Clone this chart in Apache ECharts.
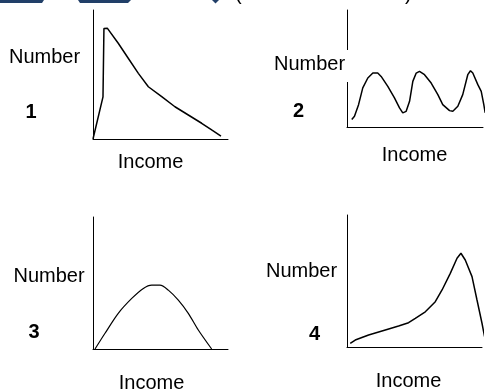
<!DOCTYPE html>
<html>
<head>
<meta charset="utf-8">
<script src="https://cdn.jsdelivr.net/npm/echarts@6/dist/echarts.min.js"></script>
<style>
  html, body { margin: 0; padding: 0; background: #fff; }
  #chart { width: 487px; height: 392px; }
</style>
</head>
<body>
<div id="chart"></div>
<script>
// Four schematic income distributions (Number vs Income), axes scaled 0..100.
const panelLabels = ['1', '2', '3', '4'];
const xAxisTitle = 'Income';
const yAxisTitle = 'Number';

// 1: sharp rise then long right tail
const income1 = [0, 7.4, 8.1, 10.7, 18.7, 26.1, 33.6, 41, 50.9, 60.7, 70.6, 80.5, 87.9, 94.8];
const number1 = [0, 32.6, 85.7, 85.8, 74.2, 62.6, 50.9, 40.5, 32.8, 25, 18.6, 12.2, 7, 2.3];

// 2: three repeated peaks
const income2 = [3.5, 5.5, 8.5, 11.6, 15.3, 19, 22.6, 25.1, 30, 34.9, 38.6, 41, 43.5, 46, 48.4, 50.9, 53.3, 57, 61.9, 66.8, 70.4, 75.4, 77.8, 81.5, 85.1, 88.8, 90.8, 92.5, 96.2, 98.7, 100.6, 101.6];
const number2 = [6.4, 9.2, 19.1, 33.4, 41.9, 46.1, 46.1, 43.2, 34.7, 24.9, 16.3, 12.1, 13.4, 22, 39, 46.1, 47.5, 44.7, 37.6, 27.7, 19.1, 14, 13.4, 17.7, 27.7, 44.7, 48.1, 46.1, 36.2, 30.5, 19.1, 12.1];

// 3: symmetric hump
const income3 = [1.5, 8.9, 18.7, 28.7, 37.3, 43.5, 49.6, 55.8, 63.2, 70.6, 78, 87.9];
const number3 = [0, 11.9, 27, 38.3, 45.9, 48.4, 48.4, 44.6, 37, 27, 14.4, 0];

// 4: slow rise, peak near the top end, steep fall
const income4 = [2.4, 6.1, 16, 28.4, 38.2, 45.6, 50.6, 58, 65.4, 70.4, 76.5, 81.5, 84.4, 87.6, 92.6, 96.3, 100, 101.9];
const number4 = [2.8, 5.3, 9.1, 12.9, 15.9, 18.4, 21.7, 26.7, 34.3, 43.2, 55.8, 67.2, 71, 65.9, 53.3, 35.6, 18, 7.8];

const curves = [[income1, number1], [income2, number2], [income3, number3], [income4, number4]];

const grids = [
  { left: 93, top: 10, width: 135, height: 129 },
  { left: 347, top: 10, width: 136, height: 117 },
  { left: 93, top: 217, width: 135, height: 132 },
  { left: 347, top: 215, width: 135, height: 132 }
];

const axisLine = { show: true, lineStyle: { color: '#000', width: 1 } };
const bareAxis = (type, i) => ({
  type: 'value', gridIndex: i, min: 0, max: 100,
  axisLine: axisLine, axisTick: { show: false }, axisLabel: { show: false },
  splitLine: { show: false }
});

const font = '"Liberation Sans", Arial, sans-serif';
const textEl = (text, x, y, bold) => ({
  type: 'text', x: x, y: y, z: 10,
  style: {
    text: text, fill: '#000', align: 'center', verticalAlign: 'middle',
    font: (bold ? 'bold ' : '') + '20px ' + font
  }
});

// label positions for each panel: [Number, digit, Income]
const labelPos = [
  [[44.5, 57], [31, 112], [150.5, 162.5]],
  [[309.5, 64.5], [298.5, 111.5], [414.5, 155.5]],
  [[49, 276.5], [34, 332.5], [151.5, 383.5]],
  [[301.5, 271.5], [314.5, 334.5], [408.5, 381.5]]
];

const graphics = [];
// white band breaking the second panel's vertical axis behind its label
graphics.push({ type: 'rect', z: 9, shape: { x: 270, y: 50, width: 80, height: 32 }, style: { fill: '#fff' } });
labelPos.forEach((p, i) => {
  graphics.push(textEl(yAxisTitle, p[0][0], p[0][1], false));
  graphics.push(textEl(panelLabels[i], p[1][0], p[1][1], true));
  graphics.push(textEl(xAxisTitle, p[2][0], p[2][1], false));
});
// heading strip along the top edge
const navy = '#213f68';
graphics.push({ type: 'polygon', shape: { points: [[0, 0], [44, 0], [42, 3], [0, 3]] }, style: { fill: navy } });
graphics.push({ type: 'polygon', shape: { points: [[78, 0], [131, 0], [128, 3], [80, 3]] }, style: { fill: navy } });
graphics.push({ type: 'polygon', shape: { points: [[212, 0], [219, 0], [215.5, 3.5]] }, style: { fill: navy } });
graphics.push({ type: 'text', x: 235, y: -16, style: { text: '(', font: '20px ' + font, fill: '#000' } });
graphics.push({ type: 'text', x: 405, y: -16, style: { text: ')', font: '20px ' + font, fill: '#000' } });

const option = {
  animation: false,
  backgroundColor: '#fff',
  grid: grids,
  xAxis: grids.map((g, i) => bareAxis('x', i)),
  yAxis: grids.map((g, i) => bareAxis('y', i)),
  series: curves.map((c, i) => ({
    type: 'line', xAxisIndex: i, yAxisIndex: i,
    data: c[0].map((x, k) => [x, c[1][k]]),
    showSymbol: false, clip: false,
    smooth: i === 2 ? 0.3 : false,
    lineStyle: { color: '#000', width: i === 2 ? 1.2 : 1.5 }
  })),
  graphic: graphics
};

const chart = echarts.init(document.getElementById('chart'), null, { renderer: 'canvas' });
chart.setOption(option);
</script>
</body>
</html>
